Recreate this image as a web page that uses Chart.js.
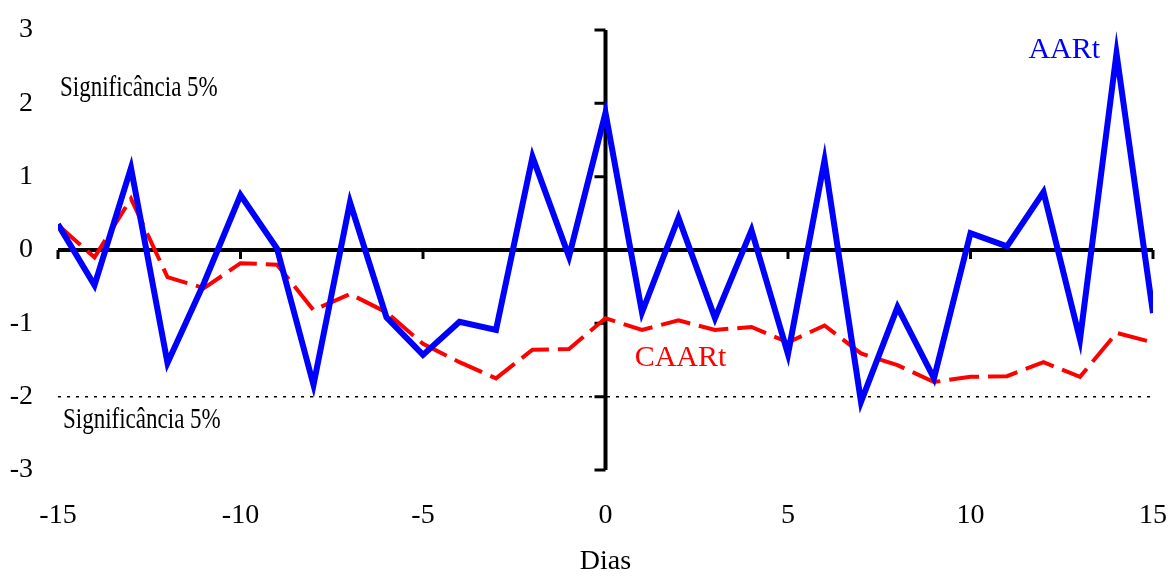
<!DOCTYPE html>
<html>
<head>
<meta charset="utf-8">
<script src="https://cdn.jsdelivr.net/npm/chart.js@4"></script>
<style>
  html, body { margin: 0; padding: 0; background: #fff; }
  #wrap { width: 1170px; height: 578px; }
</style>
</head>
<body>
<div id="wrap"><canvas id="myChart"></canvas></div>
<script>
// dias do evento
const dias = [-15, -14, -13, -12, -11, -10, -9, -8, -7, -6, -5, -4, -3, -2, -1, 0,
  1, 2, 3, 4, 5, 6, 7, 8, 9, 10, 11, 12, 13, 14, 15];
const aart = [0.35, -0.48, 1.12, -1.54, -0.45, 0.75, 0.02, -1.84, 0.65, -0.92, -1.43,
  -0.98, -1.09, 1.27, -0.09, 1.87, -0.85, 0.44, -0.93, 0.27, -1.42, 1.22, -2.07,
  -0.78, -1.75, 0.23, 0.05, 0.79, -1.22, 2.68, -0.86];
const caart = [0.34, -0.1, 0.7, -0.37, -0.52, -0.18, -0.2, -0.82, -0.6, -0.85, -1.28,
  -1.53, -1.75, -1.36, -1.35, -0.93, -1.09, -0.96, -1.09, -1.05, -1.26, -1.03, -1.41,
  -1.57, -1.8, -1.73, -1.72, -1.53, -1.73, -1.13, -1.26];
const limite = [-2, -2];
const limiteDias = [-15, 15];
const xTicks = [-15, -10, -5, 0, 5, 10, 15];
const yTicks = [-3, -2, -1, 0, 1, 2, 3];

const serif = 'Liberation Serif, Times New Roman, serif';

// texto "esticado" na vertical, como no original
function textoAlto(ctx, txt, px, py, k) {
  ctx.save();
  ctx.translate(px, py);
  ctx.scale(1, k);
  ctx.fillText(txt, 0, 0);
  ctx.restore();
}

const eixos = {
  id: 'eixos',
  beforeDatasetsDraw(chart) {
    const {ctx, scales: {x, y}} = chart;
    const x0 = x.getPixelForValue(0);
    const y0 = y.getPixelForValue(0);
    ctx.save();
    ctx.strokeStyle = '#000';
    ctx.lineWidth = 4;
    ctx.beginPath();
    ctx.moveTo(x.getPixelForValue(xTicks[0]), y0);
    ctx.lineTo(x.getPixelForValue(xTicks[xTicks.length - 1]), y0);
    ctx.moveTo(x0, y.getPixelForValue(yTicks[yTicks.length - 1]));
    ctx.lineTo(x0, y.getPixelForValue(yTicks[0]));
    ctx.stroke();
    ctx.lineWidth = 3;
    ctx.beginPath();
    xTicks.forEach(v => {
      const px = x.getPixelForValue(v);
      ctx.moveTo(px, y0);
      ctx.lineTo(px, y0 + 9);
    });
    yTicks.forEach(v => {
      const py = y.getPixelForValue(v);
      ctx.moveTo(x0, py);
      ctx.lineTo(x0 - 11, py);
    });
    ctx.stroke();
    ctx.restore();
  },
  afterDraw(chart) {
    const {ctx, scales: {x, y}} = chart;
    ctx.save();
    ctx.textBaseline = 'middle';
    ctx.fillStyle = '#000';
    ctx.font = '23px ' + serif;
    ctx.textAlign = 'left';
    textoAlto(ctx, 'Significância 5%', x.getPixelForValue(-15) + 2, y.getPixelForValue(2.2), 1.25);
    textoAlto(ctx, 'Significância 5%', x.getPixelForValue(-15) + 5, y.getPixelForValue(-2.32), 1.25);
    ctx.font = '30px ' + serif;
    ctx.fillStyle = '#0000ff';
    ctx.textAlign = 'right';
    ctx.fillText('AARt', x.getPixelForValue(13.55), y.getPixelForValue(2.73));
    ctx.fillStyle = '#ff0000';
    ctx.textAlign = 'left';
    ctx.fillText('CAARt', x.getPixelForValue(0.8), y.getPixelForValue(-1.47));
    ctx.restore();
  }
};

const ctx = document.getElementById('myChart');
const myChart = new Chart(ctx, {
  type: 'line',
  data: {
    datasets: [{
      label: 'AARt',
      data: dias.map((d, i) => ({x: d, y: aart[i]})),
      borderColor: '#0000ff',
      borderWidth: 6,
      pointRadius: 0,
      tension: 0
    }, {
      label: 'CAARt',
      data: dias.map((d, i) => ({x: d, y: caart[i]})),
      borderColor: '#ff0000',
      borderWidth: 4,
      borderDash: [30, 9],
      pointRadius: 0,
      tension: 0
    }, {
      label: 'Significância 5%',
      data: limiteDias.map((d, i) => ({x: d, y: limite[i]})),
      borderColor: '#000',
      borderWidth: 1.5,
      borderDash: [3, 6],
      pointRadius: 0
    }]
  },
  options: {
    responsive: true,
    maintainAspectRatio: false,
    animation: false,
    layout: { padding: { top: 30, right: 17, left: 0, bottom: 0 } },
    plugins: {
      legend: { display: false },
      tooltip: { enabled: false }
    },
    scales: {
      x: {
        type: 'linear',
        min: -15,
        max: 15,
        afterFit: s => { s.height = 108; s.paddingLeft = 0; s.paddingRight = 0; },
        grid: { display: false, drawTicks: false },
        border: { display: false },
        ticks: {
          stepSize: 5,
          padding: 29,
          color: '#000',
          maxRotation: 0,
          font: { family: serif, size: 28 }
        },
        title: {
          display: true,
          text: 'Dias',
          color: '#000',
          padding: 0,
          font: { family: serif, size: 28 }
        }
      },
      y: {
        min: -3,
        max: 3,
        afterFit: s => { s.width = 58; s.paddingTop = 0; s.paddingBottom = 0; },
        grid: { display: false, drawTicks: false },
        border: { display: false },
        ticks: {
          stepSize: 1,
          padding: 25,
          color: '#000',
          font: { family: serif, size: 28 }
        }
      }
    }
  },
  plugins: [eixos]
});
</script>
</body>
</html>
